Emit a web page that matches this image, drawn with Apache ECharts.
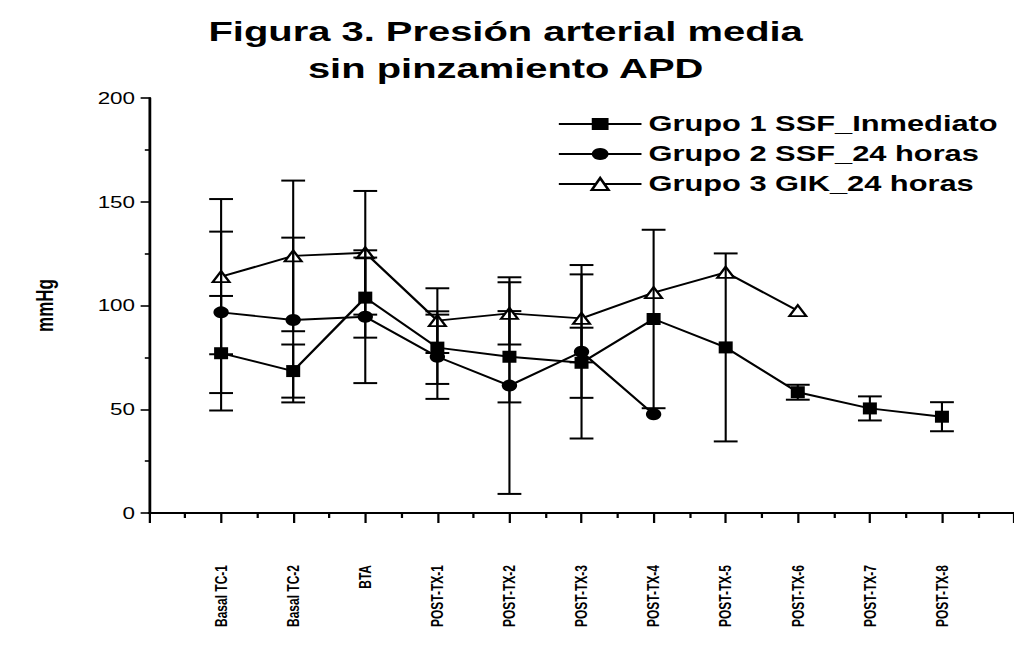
<!DOCTYPE html>
<html>
<head>
<meta charset="utf-8">
<script src="https://cdn.jsdelivr.net/npm/echarts@6/dist/echarts.min.js"></script>
<style>
  html, body { margin: 0; padding: 0; background: #fff; overflow: hidden; }
  #wrap { width: 1014px; height: 646px; overflow: hidden; }
  /* the figure is laid out at a narrower width and widened horizontally */
  #chart { width: 724px; height: 646px; transform: scaleX(1.4006); transform-origin: 0 0; }
</style>
</head>
<body>
<div id="wrap"><div id="chart"></div></div>
<script>
// Time points (x positions 1..11)
const categories = ['Basal TC-1', 'Basal TC-2', 'BTA', 'POST-TX-1', 'POST-TX-2', 'POST-TX-3',
                    'POST-TX-4', 'POST-TX-5', 'POST-TX-6', 'POST-TX-7', 'POST-TX-8'];

// Mean arterial pressure (mmHg) and half-width of the error bars
const group1Mean = [77.0, 68.4, 103.8, 79.7, 75.3, 72.4, 93.5, 79.8, 58.2, 50.4, 46.4];
const group1Err  = [27.6, 12.8, 19.3, 17.5, 22.0, 16.9, 43.0, 45.3, 3.6, 5.8, 7.0];

const group2Mean = [96.7, 93.0, 94.6, 75.3, 61.4, 77.7, 47.6, null, null, null, null];
const group2Err  = [38.9, 39.7, 32.0, 20.3, 52.2, 41.8, 0, null, null, null, null];

const group3Mean = [113.9, 123.9, 125.4, 92.7, 96.2, 93.8, 106.2, 116.0, 97.5, null, null];
const group3Err  = [37.4, 36.3, 29.8, 15.6, 15.0, 21.2, 0, 0, 0, null, null];

const seriesNames = ['Grupo 1 SSF_Inmediato', 'Grupo 2 SSF_24 horas', 'Grupo 3 GIK_24 horas'];
const yTicks = [0, 50, 100, 150, 200];

const FONT = 'Liberation Sans, Arial, sans-serif';

function points(means) {
  const out = [];
  means.forEach((v, i) => { if (v !== null) out.push([i + 1, v]); });
  return out;
}
function bars(means, errs) {
  const out = [];
  means.forEach((v, i) => {
    if (v !== null && errs[i]) out.push([i + 1, v - errs[i], v + errs[i]]);
  });
  return out;
}

function renderErrorBar(params, api) {
  const x = api.value(0);
  const top = api.coord([x, api.value(2)]);
  const bot = api.coord([x, api.value(1)]);
  const hw = 8.5;
  const st = { stroke: '#000', lineWidth: 1.5 };
  const cap = { stroke: '#000', lineWidth: 2 };
  return {
    type: 'group',
    children: [
      { type: 'line', shape: { x1: top[0], y1: top[1], x2: bot[0], y2: bot[1] }, style: st },
      { type: 'line', shape: { x1: top[0] - hw, y1: top[1], x2: top[0] + hw, y2: top[1] }, style: cap },
      { type: 'line', shape: { x1: bot[0] - hw, y1: bot[1], x2: bot[0] + hw, y2: bot[1] }, style: cap }
    ]
  };
}

const chart = echarts.init(document.getElementById('chart'), null, { renderer: 'svg' });

const lineStyle = { color: '#000', width: 1.9 };

chart.setOption({
  animation: false,
  backgroundColor: '#fff',
  title: {
    text: 'Figura 3. Presión arterial media\nsin pinzamiento APD',
    left: 356,
    top: 8,
    textAlign: 'center',
    textStyle: { fontFamily: FONT, fontSize: 28.5, fontWeight: 'bold', color: '#000', lineHeight: 37 }
  },
  legend: {
    orient: 'vertical',
    left: 393,
    top: 107,
    itemWidth: 59,
    itemHeight: 15,
    itemGap: 6,
    selectedMode: false,
    textStyle: { fontFamily: FONT, fontSize: 22, fontWeight: 'bold', color: '#000', lineHeight: 24 },
    data: seriesNames
  },
  grid: { left: 106.4, right: 0, top: 98, bottom: 133 },
  xAxis: {
    type: 'value',
    min: 0,
    max: 12,
    interval: 1,
    axisLine: { lineStyle: { color: '#000', width: 2 } },
    axisTick: { length: 10, lineStyle: { color: '#000', width: 1.6 } },
    minorTick: { show: true, splitNumber: 2, length: 5, lineStyle: { color: '#000', width: 1.6 } },
    splitLine: { show: false },
    axisLabel: {
      rotate: 90,
      margin: 52,
      fontFamily: FONT,
      fontSize: 12,
      fontWeight: 'bold',
      color: '#000',
      formatter: v => (Number.isInteger(v) && v >= 1 && v <= categories.length) ? categories[v - 1] : ''
    }
  },
  yAxis: {
    type: 'value',
    min: yTicks[0],
    max: yTicks[yTicks.length - 1],
    interval: yTicks[1] - yTicks[0],
    name: 'mmHg',
    nameLocation: 'middle',
    nameRotate: 90,
    nameGap: 66,
    nameTextStyle: { fontFamily: FONT, fontSize: 17, fontWeight: 'bold', color: '#000' },
    axisLine: { show: true, lineStyle: { color: '#000', width: 2 } },
    axisTick: { length: 6, lineStyle: { color: '#000', width: 1.6 } },
    minorTick: { show: true, splitNumber: 2, length: 3, lineStyle: { color: '#000', width: 1.6 } },
    splitLine: { show: false },
    axisLabel: { margin: 10, fontFamily: FONT, fontSize: 16, color: '#000' }
  },
  series: [
    {
      name: seriesNames[0], type: 'line', z: 2,
      data: points(group1Mean),
      symbol: 'rect', symbolSize: [10, 12],
      lineStyle: lineStyle,
      itemStyle: { color: '#000' },
      emphasis: { disabled: true }
    },
    {
      name: seriesNames[1], type: 'line', z: 2,
      data: points(group2Mean),
      symbol: 'circle', symbolSize: [11, 12],
      lineStyle: lineStyle,
      itemStyle: { color: '#000' },
      emphasis: { disabled: true }
    },
    {
      name: seriesNames[2], type: 'line', z: 2,
      data: points(group3Mean),
      symbol: 'triangle', symbolSize: [12, 11],
      lineStyle: lineStyle,
      itemStyle: { color: '#fff', borderColor: '#000', borderWidth: 1.8 },
      emphasis: { disabled: true }
    },
    {
      type: 'custom', z: 3, silent: true,
      renderItem: renderErrorBar,
      data: bars(group1Mean, group1Err)
    },
    {
      type: 'custom', z: 3, silent: true,
      renderItem: renderErrorBar,
      data: bars(group2Mean, group2Err)
    },
    {
      type: 'custom', z: 3, silent: true,
      renderItem: renderErrorBar,
      data: bars(group3Mean, group3Err)
    }
  ]
});
</script>
</body>
</html>
